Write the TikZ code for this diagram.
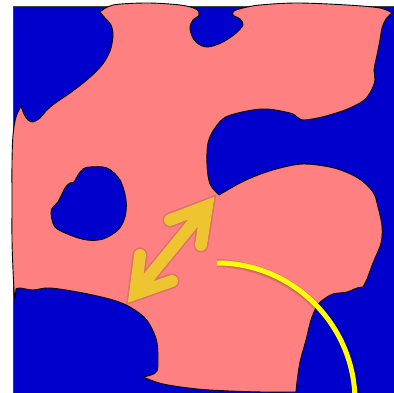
\documentclass[tikz,border=0pt]{standalone}
\definecolor{bgblue}{RGB}{0,0,204}
\definecolor{salmon}{RGB}{255,128,128}
\definecolor{gold}{RGB}{238,196,48}
\definecolor{yel}{RGB}{255,255,0}
\tikzset{
  sm/.style={smooth, tension=0.55},
  shape outline/.style={fill=salmon, draw=black, line width=0.9pt, line join=round},
  hole/.style={fill=bgblue, draw=black, line width=0.9pt},
  arrowline/.style={gold, line width=12pt, line cap=round, line join=miter},
  curveline/.style={yel, line width=5pt, line cap=butt},
  shadowline/.style={black, opacity=0.12, line cap=round, line join=miter}
}
\begin{document}
\begin{tikzpicture}[x=1pt,y=-1pt]
\useasboundingbox (0,0) rectangle (394,393);
\clip (0,0) rectangle (394,393);
\fill[white] (0,0) rectangle (394,393);
% blue background
\draw[fill=bgblue, draw=black!75, line width=0.8pt] (13,6) rectangle (400,400);
% salmon region
\draw[shape outline]
  plot[sm] coordinates {(21,106) (24,114) (28,120) (33,122) (40,118) (46,111) (54,104) (70,93) (88,79) (102,65) (110,51) (113,36) (111,25) (105,18) (100,12)}
  -- plot[sm] coordinates {(100,12) (113,5) (147,3) (180,5) (196,9) (199,15) (193,20) (190,27) (192,36) (197,43) (207,47) (221,43) (235,34) (243,25) (240,19) (233,15) (234,11) (243,8) (260,5) (297,3) (347,5) (380,8) (392,13)}
  -- plot[sm] coordinates {(392,13) (386,19) (382,28) (380,40) (377,55) (374,70) (375,80) (371,91) (363,101) (345,110) (322,117) (304,120) (297,117) (290,113) (262,109) (228,116) (215,128) (208,143) (207,165) (210,184) (219,195)}
  -- plot[sm] coordinates {(219,195) (240,183) (258,175) (280,168) (304,164) (334,168) (358,178) (373,192) (378,207) (382,226) (381,243) (373,263) (367,279) (363,287)}
  -- plot[sm] coordinates {(363,287) (357,288) (347,292) (333,294) (324,299) (317,306) (311,320) (306,340) (300,362) (297,382) (296,392)}
  -- plot[sm] coordinates {(296,392) (263,392) (230,391) (197,389) (163,384) (143,377)}
  -- plot[sm] coordinates {(143,377) (151,375) (157,371) (158,360) (157,343) (153,331) (145,318) (130,307) (113,300) (83,293) (50,288) (33,290) (20,288) (16,289)}
  -- (15,300)
  -- plot[sm] coordinates {(14,290) (13,270) (12,240) (12,200) (12,163) (13,135) (16,117) (21,106)}
  -- cycle;
% hole
\draw[hole] plot[smooth cycle, tension=0.55] coordinates {(90,167) (107,168) (120,180) (126,200) (125,217) (118,230) (103,239) (87,240) (70,235) (55,227) (51,213) (53,207) (58,202) (65,188) (70,183) (74,182) (78,175) (83,169)};
% arrow coordinates
\coordinate (va) at (135,294);
\coordinate (la) at (140,255);
\coordinate (ra) at (172,281);
\coordinate (vb) at (207,206);
\coordinate (lb) at (170,220);
\coordinate (rb) at (201,245);
% yellow curve coordinates
\coordinate (cs) at (217,263);
\coordinate (ce) at (355,401);
% shadows
\begin{scope}[shift={(2,3)}]
  \draw[shadowline, line width=15pt] (la) -- (va) -- (ra) (va) -- (vb) (lb) -- (vb) -- (rb);
  \draw[shadowline, line width=12pt] (la) -- (va) -- (ra) (va) -- (vb) (lb) -- (vb) -- (rb);
  \draw[shadowline, line width=8pt, line cap=butt] (cs) .. controls (293,263) and (355,325) .. (ce);
  \draw[shadowline, line width=5pt, line cap=butt] (cs) .. controls (293,263) and (355,325) .. (ce);
\end{scope}
% double arrow
\draw[arrowline] (la) -- (va) -- (ra) (va) -- (vb) (lb) -- (vb) -- (rb);
% yellow curve
\draw[curveline] (cs) .. controls (293,263) and (355,325) .. (ce);
\end{tikzpicture}
\end{document}
